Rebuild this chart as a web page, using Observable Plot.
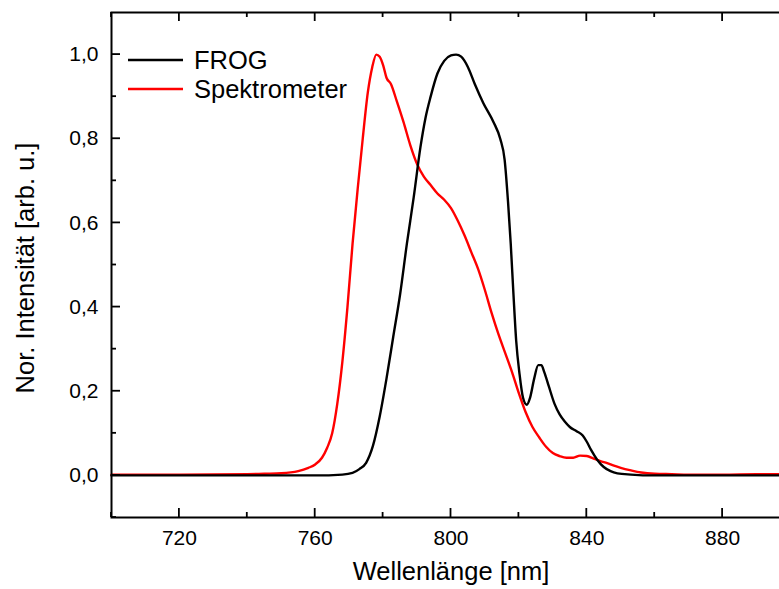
<!DOCTYPE html>
<html>
<head>
<meta charset="utf-8">
<script src="https://cdn.jsdelivr.net/npm/d3@7"></script>
<script src="https://cdn.jsdelivr.net/npm/@observablehq/plot@0.6"></script>
<style>
html, body { margin: 0; padding: 0; overflow: hidden; background: #fff; }
#chart svg { display: block; }
</style>
</head>
<body>
<div id="chart"></div>
<script>
// ---- Data ----
const frogWl  = [700, 760, 768, 771, 773, 775, 777, 779, 781, 783, 785, 787, 789, 791, 792.5, 794, 796, 798, 800, 801.5, 803, 805, 807, 809.5, 812.5, 814.5, 815.8, 816.8, 817.6, 818.4, 819.2, 820.2, 821.2, 822.3, 823.3, 824.5, 825.7, 826.6, 827.5, 828.8, 830.5, 832, 833.5, 835, 837, 838.8, 840, 841.3, 843, 845, 847, 849, 853, 860, 900];
const frogInt = [0, 0, 0.002, 0.006, 0.015, 0.03, 0.07, 0.14, 0.23, 0.33, 0.43, 0.55, 0.66, 0.78, 0.85, 0.9, 0.955, 0.985, 0.998, 1.0, 0.995, 0.97, 0.93, 0.885, 0.84, 0.8, 0.75, 0.65, 0.55, 0.43, 0.32, 0.24, 0.185, 0.168, 0.185, 0.23, 0.262, 0.262, 0.245, 0.212, 0.17, 0.145, 0.128, 0.115, 0.105, 0.095, 0.08, 0.06, 0.038, 0.02, 0.01, 0.005, 0.002, 0, 0];

const specWl  = [700, 720, 740, 745, 750, 755, 758, 760, 762, 763.5, 765, 766.5, 768, 769.5, 771, 772.5, 774, 775.5, 776.8, 778, 779, 780, 781, 782.3, 784, 786, 788, 790, 792, 794, 796, 798, 800, 802, 804, 806, 808, 810, 812, 814, 816, 818, 820, 822, 824, 826, 828, 830, 832, 834, 836, 838, 840, 842, 844, 846, 848, 850, 853, 856, 860, 865, 870, 880, 890, 900];
const specInt = [0.002, 0.002, 0.003, 0.004, 0.005, 0.01, 0.018, 0.026, 0.042, 0.065, 0.1, 0.17, 0.27, 0.4, 0.55, 0.68, 0.8, 0.91, 0.97, 1.0, 0.995, 0.975, 0.945, 0.93, 0.89, 0.84, 0.785, 0.74, 0.71, 0.69, 0.67, 0.655, 0.635, 0.605, 0.57, 0.53, 0.49, 0.44, 0.385, 0.335, 0.29, 0.245, 0.195, 0.15, 0.115, 0.09, 0.068, 0.053, 0.046, 0.042, 0.042, 0.047, 0.046, 0.04, 0.034, 0.029, 0.023, 0.018, 0.012, 0.007, 0.004, 0.003, 0.002, 0.002, 0.003, 0.003];

const seriesNames  = ["FROG", "Spektrometer"];
const seriesColors = ["#000000", "#ff0000"];

const xMajorTicks = [720, 760, 800, 840, 880];
const xMinorTicks = [700, 740, 780, 820, 860, 900];
const yMajorTicks = [0, 0.2, 0.4, 0.6, 0.8, 1.0];
const yMinorTicks = [-0.1, 0.1, 0.3, 0.5, 0.7, 0.9];

const xLabel = "Wellenlänge [nm]";
const yLabel = "Nor. Intensität [arb. u.]";

// ---- Build tables ----
const frog = frogWl.map((w, i) => ({wl: w, v: frogInt[i], s: seriesNames[0]}));
const spec = specWl.map((w, i) => ({wl: w, v: specInt[i], s: seriesNames[1]}));

const fmt = d => d.toFixed(1).replace(".", ",");

// Inward ticks on bottom, top and left edges, drawn with Plot's scales
function ticksMark(index, scales, values, dims) {
  const x = scales.x, y = scales.y;
  const g = d3.create("svg:g").attr("stroke", "#000").attr("stroke-width", 1.8).attr("fill", "none");
  const top = dims.marginTop, bottom = dims.height - dims.marginBottom, left = dims.marginLeft;
  const add = (x1, y1, x2, y2) => g.append("line").attr("x1", x1).attr("y1", y1).attr("x2", x2).attr("y2", y2);
  for (const t of xMajorTicks) { const px = x(t); add(px, bottom, px, bottom - 9); add(px, top, px, top + 9); }
  for (const t of xMinorTicks) { const px = x(t); add(px, bottom, px, bottom - 5); add(px, top, px, top + 5); }
  for (const t of yMajorTicks) { const py = y(t); add(left, py, left + 9, py); }
  for (const t of yMinorTicks) { const py = y(t); add(left, py, left + 5, py); }
  return g.node();
}

function legendMark(index, scales, values, dims) {
  const g = d3.create("svg:g");
  seriesNames.forEach((name, i) => {
    const yy = dims.marginTop + 48 + i * 29;
    g.append("line")
      .attr("x1", dims.marginLeft + 17).attr("x2", dims.marginLeft + 72)
      .attr("y1", yy).attr("y2", yy)
      .attr("stroke", seriesColors[i]).attr("stroke-width", 2.4);
    g.append("text")
      .attr("x", dims.marginLeft + 83).attr("y", yy).attr("dy", "0.36em")
      .attr("font-size", 25.5).attr("fill", "#000").attr("text-anchor", "start")
      .text(name);
  });
  return g.node();
}

const chart = Plot.plot({
  width: 779,
  height: 589,
  marginLeft: 111,
  marginRight: -11,
  marginTop: 12,
  marginBottom: 72,
  style: {fontFamily: "'Liberation Sans', Arial, sans-serif", fontSize: "21px", color: "#000", background: "#fff"},
  x: {domain: [700, 900]},
  y: {domain: [-0.1, 1.1]},
  color: {domain: seriesNames, range: seriesColors},
  marks: [
    Plot.line(spec, {x: "wl", y: "v", stroke: seriesColors[1], strokeWidth: 2.4, curve: "monotone-x"}),
    Plot.line(frog, {x: "wl", y: "v", stroke: seriesColors[0], strokeWidth: 2.4, curve: "monotone-x"}),
    Plot.frame({stroke: "#000", strokeWidth: 2}),
    ticksMark,
    Plot.axisX({ticks: xMajorTicks, tickSize: 0, tickPadding: 13, label: null, fontSize: 21}),
    Plot.axisY({ticks: yMajorTicks, tickSize: 0, tickPadding: 13, label: null, tickFormat: fmt, fontSize: 21}),
    Plot.text([xLabel], {text: d => d, frameAnchor: "bottom", textAnchor: "middle", dy: 62, fontSize: 25.5}),
    Plot.text([yLabel], {text: d => d, frameAnchor: "left", textAnchor: "middle", rotate: -90, dx: -86, dy: 3, fontSize: 25.5}),
    legendMark
  ]
});
document.getElementById("chart").appendChild(chart);
</script>
</body>
</html>
